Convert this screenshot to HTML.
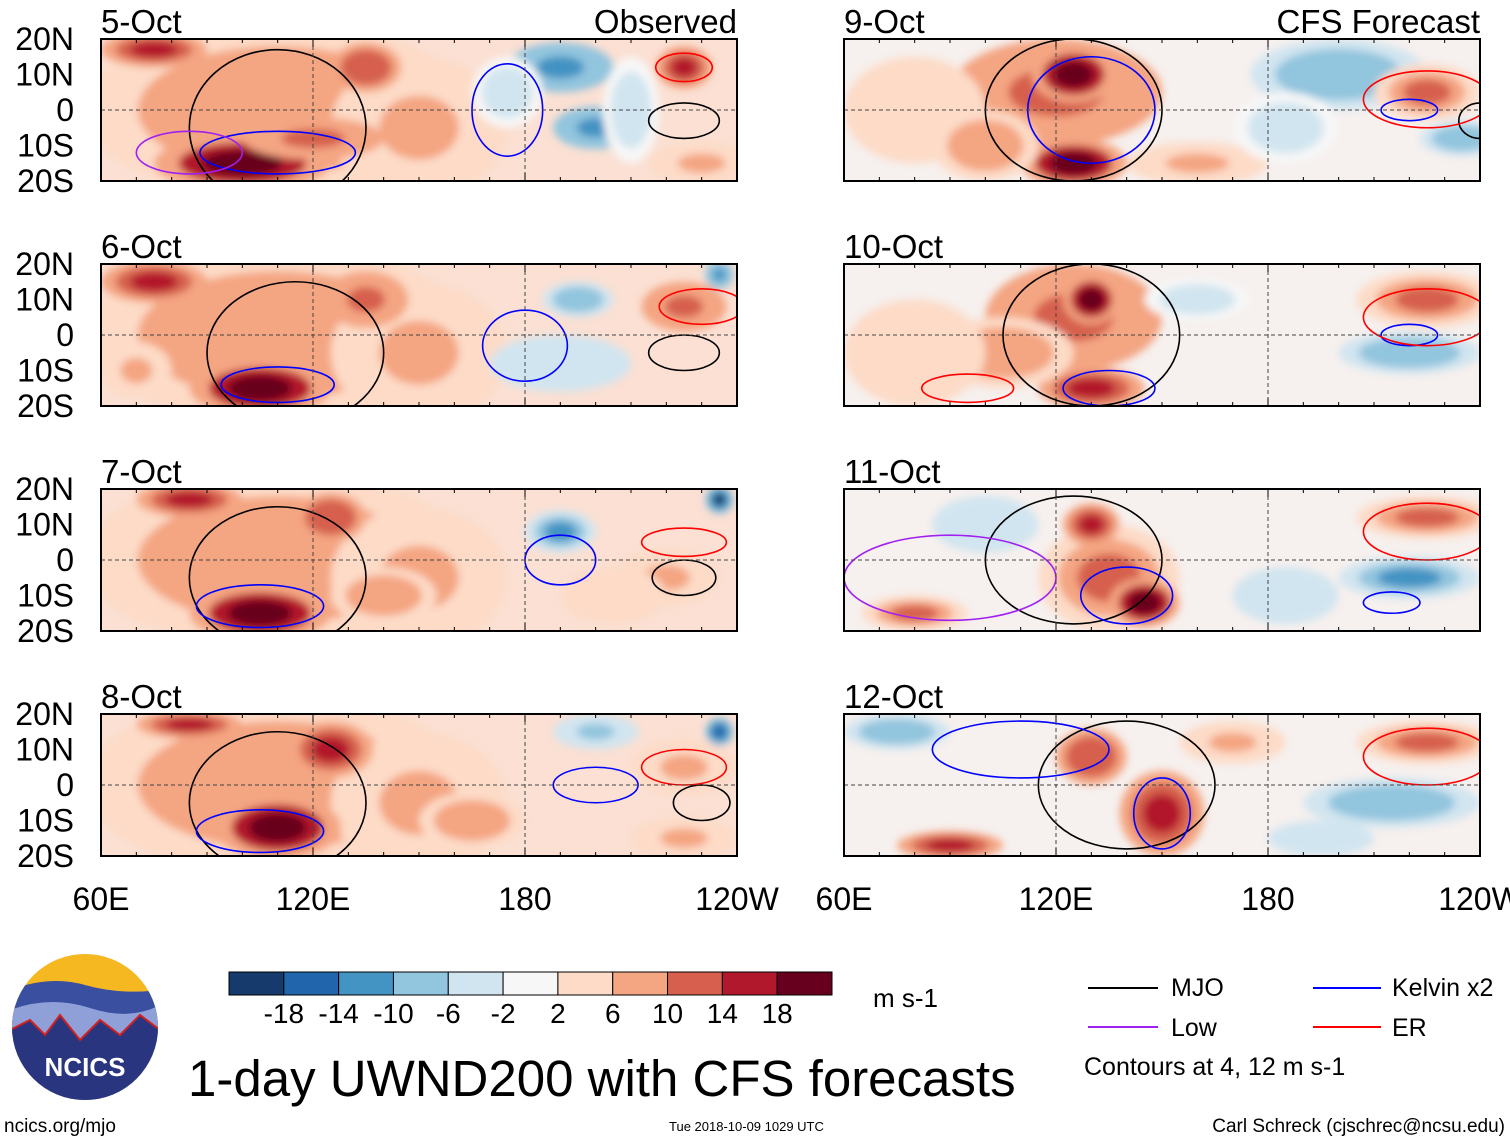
<!DOCTYPE html>
<html><head><meta charset="utf-8">
<style>
body{margin:0;background:#fff;font-family:"Liberation Sans",sans-serif}
svg text{font-family:"Liberation Sans",sans-serif}
</style></head>
<body>
<svg id="fig" width="1510" height="1142" viewBox="0 0 1510 1142" xmlns="http://www.w3.org/2000/svg">
<defs>
<filter id="blur" x="-20%" y="-20%" width="140%" height="140%"><feGaussianBlur stdDeviation="4"/></filter>
</defs>
<g id="panels"></g>
<g id="colorbar"></g>
<text x="873" y="1007" font-size="26">m s-1</text>
<g font-size="25">
<line x1="1088" y1="988" x2="1158" y2="988" stroke="#000" stroke-width="2"/><text x="1171" y="996">MJO</text>
<line x1="1313" y1="988" x2="1381" y2="988" stroke="#0000ff" stroke-width="2"/><text x="1392" y="996">Kelvin x2</text>
<line x1="1088" y1="1027" x2="1158" y2="1027" stroke="#a020f0" stroke-width="2"/><text x="1171" y="1036">Low</text>
<line x1="1313" y1="1027" x2="1381" y2="1027" stroke="#ff0000" stroke-width="2"/><text x="1392" y="1036">ER</text>
<text x="1084" y="1075">Contours at 4, 12 m s-1</text>
</g>
<g>
<clipPath id="lc"><circle cx="85" cy="1027" r="73"/></clipPath>
<g clip-path="url(#lc)">
<rect x="10" y="953" width="150" height="150" fill="#f5b820"/>
<path d="M10 990 Q50 975 85 985 T160 990 V1103 H10Z" fill="#3a4fa0"/>
<path d="M10 1010 Q50 995 90 1008 T160 1005 V1103 H10Z" fill="#8fa0d8"/>
<path d="M10 1030 L30 1020 L45 1035 L60 1015 L80 1040 L100 1020 L120 1035 L140 1015 L160 1030 V1103 H10Z" fill="#2a3580" stroke="#d02020" stroke-width="2"/>
</g>
<text x="85" y="1076" font-size="26" font-weight="bold" fill="#fff" text-anchor="middle">NCICS</text>
</g>
<text x="188" y="1096" font-size="51">1-day UWND200 with CFS forecasts</text>
<text x="4" y="1132" font-size="19">ncics.org/mjo</text>
<text x="669" y="1131" font-size="13">Tue 2018-10-09 1029 UTC</text>
<text x="1505" y="1132" font-size="19" text-anchor="end">Carl Schreck (cjschrec@ncsu.edu)</text>
</svg>
<script>
const NS="http://www.w3.org/2000/svg";
const levels=[-18,-14,-10,-6,-2,2,6,10,14,18];
const colors=["#163a6b","#2166ac","#4393c3","#92c5de","#d1e5f0","#f7f7f7","#fddbc7","#f4a582","#d6604d","#b2182b","#67001f"];
const dates=["5-Oct","6-Oct","7-Oct","8-Oct","9-Oct","10-Oct","11-Oct","12-Oct"];
const latTicks=["20N","10N","0","10S","20S"];
const lonTicks=["60E","120E","180","120W"];
// blobs: [lon, lat, halfWidthDeg, halfHeightDeg, u (m/s)]
const blobs0=[[110,0,55,25,10],[150,-5,25,20,8],[100,-15,25,8,19],[75,17,15,5,17],[135,12,10,7,14],[120,-8,20,6,13],[190,12,15,7,-12],[200,-5,12,6,-13],[225,12,8,6,16],[230,-15,15,6,7],[175,5,10,10,-3],[210,0,8,15,-3]];
const blobs1=[[110,0,55,25,10],[150,-5,25,20,8],[105,-15,20,8,20],[75,15,15,6,15],[135,10,12,8,13],[195,10,10,5,-9],[190,-8,20,8,-4],[225,8,12,7,13],[70,-10,10,8,8],[235,17,4,4,-12]];
const blobs2=[[110,0,55,25,9],[150,-5,25,20,8],[105,-15,20,8,20],[85,17,15,5,17],[125,12,10,7,14],[190,8,10,6,-10],[235,17,4,4,-18],[220,-5,15,8,8],[140,-10,15,8,9],[205,-10,15,8,5]];
const blobs3=[[110,0,55,25,9],[150,-5,25,20,8],[110,-12,18,9,20],[125,10,12,8,16],[85,17,15,4,16],[200,15,12,5,-7],[225,5,15,8,7],[165,-10,15,8,9],[235,15,4,4,-16],[225,-15,15,6,7]];
const blobs4=[[120,5,30,15,13],[125,10,12,8,20],[125,-15,15,7,19],[200,10,25,10,-8],[225,5,15,8,11],[235,-8,12,5,-9],[80,0,20,15,6],[160,-15,20,6,8],[100,-10,15,10,9],[185,-5,15,10,-3]];
const blobs5=[[125,5,25,15,13],[130,10,8,7,20],[130,-15,15,6,18],[105,-5,20,10,10],[225,10,20,8,11],[220,-5,20,6,-8],[160,10,15,6,-3],[80,-5,20,15,6]];
const blobs6=[[135,-5,20,15,12],[145,-12,10,7,19],[130,10,8,6,16],[225,12,20,6,12],[220,-5,20,6,-10],[80,-15,15,5,12],[100,10,15,8,-5],[185,-10,15,8,-4]];
const blobs7=[[150,-8,12,12,18],[130,8,10,8,14],[90,-17,15,4,17],[225,12,20,6,12],[215,-5,25,7,-9],[75,15,15,5,-8],[170,12,15,6,7],[195,-15,15,5,-5]];
const allBlobs=[blobs0,blobs1,blobs2,blobs3,blobs4,blobs5,blobs6,blobs7];
// contours: [lon, lat, halfWidthDeg, halfHeightDeg, type]
const cont0=[[110,-5,25,22,"mjo"],[225,-3,10,5,"mjo"],[110,-12,22,6,"kelvin"],[175,0,10,13,"kelvin"],[225,12,8,4,"er"],[85,-12,15,6,"low"]];
const cont1=[[115,-5,25,20,"mjo"],[225,-5,10,5,"mjo"],[110,-14,16,5,"kelvin"],[180,-3,12,10,"kelvin"],[230,8,12,5,"er"]];
const cont2=[[110,-5,25,20,"mjo"],[225,-5,9,5,"mjo"],[105,-13,18,6,"kelvin"],[190,0,10,7,"kelvin"],[225,5,12,4,"er"]];
const cont3=[[110,-5,25,20,"mjo"],[230,-5,8,5,"mjo"],[105,-13,18,6,"kelvin"],[200,0,12,5,"kelvin"],[225,5,12,5,"er"]];
const cont4=[[125,0,25,20,"mjo"],[240,-3,6,5,"mjo"],[130,0,18,15,"kelvin"],[220,0,8,3,"kelvin"],[225,3,18,8,"er"]];
const cont5=[[130,0,25,20,"mjo"],[135,-15,13,5,"kelvin"],[220,0,8,3,"kelvin"],[225,5,18,8,"er"],[95,-15,13,4,"er"]];
const cont6=[[125,0,25,18,"mjo"],[140,-10,13,8,"kelvin"],[215,-12,8,3,"kelvin"],[225,8,18,8,"er"],[90,-5,30,12,"low"]];
const cont7=[[140,0,25,18,"mjo"],[150,-8,8,10,"kelvin"],[110,10,25,8,"kelvin"],[225,8,18,8,"er"]];
const allCont=[cont0,cont1,cont2,cont3,cont4,cont5,cont6,cont7];
const cstroke={mjo:"#000",kelvin:"#0000ff",er:"#ff0000",low:"#a020f0"};
function colorFor(v){let i=0;while(i<levels.length&&v>levels[i])i++;return colors[i];}
const W=636,H=142,lefts=[101,844],tops=[39,264,489,714];
const root=document.getElementById("panels");
function el(t,a,p){const e=document.createElementNS(NS,t);for(const k in a)e.setAttribute(k,a[k]);(p||root).appendChild(e);return e;}
for(let p=0;p<8;p++){
  const col=p<4?0:1,row=p%4,x0=lefts[col],y0=tops[row];
  const X=lon=>x0+(lon-60)/180*W, Y=lat=>y0+(20-lat)/40*H;
  const g=el("g",{});
  
  
  const cp=el("clipPath",{id:"cp"+p},g);el("rect",{x:x0,y:y0,width:W,height:H},cp);
  const body=el("g",{"clip-path":"url(#cp"+p+")"},g);
  el("rect",{x:x0,y:y0,width:W,height:H,fill:col?"#f6f0ee":"#fbe0d3"},body);
  const fg=el("g",{filter:"url(#blur)"},body);
  allBlobs[p].forEach(b=>{
    const sx=W/180,sy=H/40;
    const steps=[0.5,0.75,1],rs=[1,0.72,0.45];
    steps.forEach((f,k)=>{
      const e=el("ellipse",{cx:X(b[0]),cy:Y(b[1]),rx:b[2]*sx*rs[k],ry:b[3]*sy*rs[k],fill:colorFor(b[4]*f)},fg);
      
      
    });
  });
  allCont[p].forEach(c=>{
    const e=el("ellipse",{cx:X(c[0]),cy:Y(c[1]),rx:c[2]*W/180,ry:c[3]*H/40,fill:"none",stroke:cstroke[c[4]],"stroke-width":1.6},body);
    
    
  });
  el("line",{x1:x0,y1:Y(0),x2:x0+W,y2:Y(0),stroke:"#444","stroke-dasharray":"4,3"},body);
  [120,180].forEach(l=>el("line",{x1:X(l),y1:y0,x2:X(l),y2:y0+H,stroke:"#444","stroke-dasharray":"4,3"},body));
  el("rect",{x:x0,y:y0,width:W,height:H,fill:"none",stroke:"#000","stroke-width":2},g);
  for(let l=60;l<=240;l+=10){el("line",{x1:X(l),y1:y0,x2:X(l),y2:y0+(l%60?4:8),stroke:"#000"},g);el("line",{x1:X(l),y1:y0+H,x2:X(l),y2:y0+H-(l%60?4:8),stroke:"#000"},g);}
  const t=el("text",{x:x0,y:y0-6,"font-size":33},g);t.textContent=dates[p];
  
  if(row===0){const tt=el("text",{x:x0+W,y:y0-6,"font-size":33,"text-anchor":"end"},g);tt.textContent=col?"CFS Forecast":"Observed";}
  if(col===0){latTicks.forEach((s,i)=>{const lt=el("text",{x:x0-27,y:y0+i*H/4+11,"font-size":32,"text-anchor":"end"},g);lt.textContent=s;
    });}
  if(row===3){lonTicks.forEach((s,i)=>{const lt=el("text",{x:x0+i*W/3,y:y0+H+54,"font-size":32,"text-anchor":"middle"},g);lt.textContent=s;
    });}
}
const cb=document.getElementById("colorbar");
const cbx=229,cbw=603/11;
colors.forEach((c,i)=>{const r=el("rect",{x:cbx+i*cbw,y:972,width:cbw,height:23,fill:c,stroke:"#000"},cb);
  });
levels.forEach((v,i)=>{const t=el("text",{x:cbx+(i+1)*cbw,y:1023,"font-size":28,"text-anchor":"middle"},cb);t.textContent=v;
  });
</script>
</body></html>
